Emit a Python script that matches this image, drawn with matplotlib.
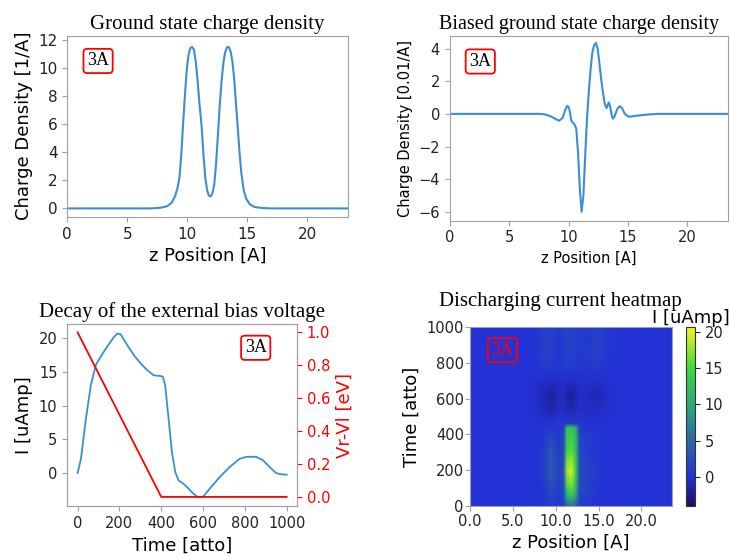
import numpy as np
import matplotlib.pyplot as plt
from matplotlib.colors import LinearSegmentedColormap

# --- top left: ground state charge density [1/A]
z_gs = [0, 7.0, 7.8, 8.3, 8.7, 9.0, 9.2, 9.35, 9.5, 9.65, 9.8, 9.95, 10.1, 10.25, 10.4,
        10.55, 10.7, 10.85, 11.0, 11.2, 11.35, 11.5, 11.65, 11.8, 11.95, 12.1, 12.25,
        12.4, 12.55, 12.7, 12.85, 13.0, 13.15, 13.3, 13.45, 13.6, 13.75, 13.9, 14.05,
        14.2, 14.35, 14.5, 14.7, 14.9, 15.2, 15.6, 16.2, 17.0, 23.6]
rho_gs = [0, 0, 0.05, 0.15, 0.4, 0.9, 1.5, 2.2, 3.8, 6.0, 8.0, 9.8, 10.9, 11.4, 11.5,
          11.3, 10.5, 9.2, 7.6, 5.8, 3.8, 2.2, 1.3, 0.9, 0.85, 1.1, 1.7,
          3.2, 5.2, 7.3, 9.0, 10.3, 11.1, 11.45, 11.5, 11.2, 10.5, 9.3, 7.5,
          5.8, 4.0, 2.5, 1.3, 0.7, 0.3, 0.1, 0.03, 0, 0]

# --- top right: biased ground state density [0.01/A]
z_b = [0, 7.5, 8.0, 8.5, 9.2, 9.5, 9.75, 9.9, 10.05, 10.25, 10.5, 10.65, 10.8, 10.95,
       11.1, 11.25, 11.4, 11.55, 11.7, 11.85, 12.0, 12.15, 12.3, 12.45, 12.6, 12.75,
       12.9, 13.05, 13.2, 13.3, 13.4, 13.5, 13.65, 13.75, 13.9, 14.1, 14.3, 14.5,
       14.7, 14.9, 15.1, 15.6, 16.5, 17.5, 23.6]
rho_b = [0, 0, -0.03, -0.15, -0.42, -0.25, 0.3, 0.5, 0.35, -0.45, -0.65, -0.9, -2.4, -4.6,
         -6.0, -5.0, -2.6, -0.3, 1.3, 2.7, 3.75, 4.2, 4.35, 4.0, 3.1, 2.1,
         1.3, 0.6, 0.35, 0.55, 0.7, 0.45, -0.15, -0.3, -0.1, 0.3, 0.47, 0.35,
         0.05, -0.1, -0.18, -0.12, -0.05, 0, 0]

# --- bottom left: current and bias voltage vs time
t_I = [0, 16, 40, 63, 87, 111, 142, 174, 190, 206, 237, 269, 301, 332, 364, 396, 408,
       419, 435, 451, 467, 483, 506, 530, 554, 577, 601, 633, 680, 728, 775, 807, 854,
       886, 918, 949, 973, 1000]
I_t = [0, 2.1, 8.1, 13.0, 16.0, 17.3, 18.8, 20.2, 20.7, 20.6, 19.0, 17.5, 16.3, 15.3,
       14.5, 14.4, 14.3, 13.0, 8.1, 3.1, 0.15, -1.1, -1.6, -2.3, -3.1, -3.6, -3.5, -2.3,
       -0.6, 0.9, 2.1, 2.4, 2.4, 1.9, 0.9, 0.0, -0.2, -0.25]
t_V = [0, 400, 1000]
V_t = [1.0, 0.0, 0.0]

# --- bottom right: current heatmap I(z, t) [uAmp]
z_hm = [0, 6, 7.5, 8.5, 9.4, 10.3, 10.9, 11.3, 11.8, 12.3, 12.8, 13.6, 14.8, 16, 17.5, 23.6]
t_hm = [0, 50, 100, 200, 300, 400, 440, 460, 540, 620, 700, 760, 850, 1000]
I_hm = [
    [0, 0, 0, 0.2, 0.8, 0.5, 0.8, 4, 6, 4, 0.8, 0.5, 0.2, 0, 0, 0],
    [0, 0, 0, 0.3, 1.5, 0.8, 1.5, 10, 12, 9, 1.5, 1, 0.3, 0, 0, 0],
    [0, 0, 0, 0.5, 2.5, 1, 2, 14, 16, 12, 2, 1.5, 0.5, 0, 0, 0],
    [0, 0, 0, 0.8, 4, 1.5, 2.5, 18, 20, 15, 2.5, 1.5, 0.8, 0, 0, 0],
    [0, 0, 0, 0.6, 3.5, 1, 2, 15, 16, 13, 2, 1, 0.5, 0, 0, 0],
    [0, 0, 0, 0.4, 1.5, 0.8, 1.5, 13, 14, 12, 1.5, 0.8, 0.3, 0, 0, 0],
    [0, 0, 0, 0.2, 0.5, 0.5, 1, 12, 13, 11, 1, 0.3, 0.2, 0, 0, 0],
    [0, 0, 0, 0, 0, 0.8, 0.5, 0.8, 1, 0.8, 0.8, 0, 0, 0, 0, 0],
    [0, 0, -0.2, -0.7, -1.3, -0.7, -0.4, -1.0, -1.3, -0.9, -0.3, -0.4, -0.7, -0.3, 0, 0],
    [0, 0, -0.3, -1.0, -1.9, -0.9, -0.7, -1.5, -1.9, -1.3, -0.5, -0.6, -1.2, -0.4, 0, 0],
    [0, 0, -0.1, -0.4, -0.7, -0.4, -0.3, -0.5, -0.7, -0.5, -0.2, -0.2, -0.4, -0.1, 0, 0],
    [0, 0, 0, 0.5, 0.6, 0.2, 0.5, 0.8, 0.6, 0.5, 0.3, 0.4, 0.6, 0.2, 0, 0],
    [0, 0, 0, 1.2, 1.4, 0.5, 1, 1.5, 1.3, 1, 0.6, 0.8, 1.4, 0.6, 0, 0],
    [0, 0, 0, 1.2, 1.4, 0.5, 1, 1.5, 1.3, 1, 0.6, 0.8, 1.4, 0.6, 0, 0],
]

blue = '#3a8fd4'
spine_c = '#a0a0a0'
serif = 'Liberation Serif'


def style_axes(ax, tick_size):
    for s in ax.spines.values():
        s.set_color(spine_c)
    ax.tick_params(colors=spine_c, labelcolor='#222222', labelsize=tick_size, length=3.5)


def tag(ax, x, y, color='black'):
    ax.text(x, y, '3A', transform=ax.transAxes, fontsize=13, family=serif, color=color,
            ha='center', va='center',
            bbox=dict(boxstyle='round,pad=0.2', fc='white' if color == 'black' else 'none',
                      ec='red', lw=1.3))


fig = plt.figure(figsize=(7.3, 5.56), dpi=100)

# top left
ax1 = fig.add_axes([0.092, 0.610, 0.385, 0.326])
ax1.plot(z_gs, rho_gs, color=blue, lw=1.5)
ax1.set_xlim(0, 23.4)
ax1.set_ylim(-0.6, 12.3)
ax1.set_xticks([0, 5, 10, 15, 20])
ax1.set_yticks([0, 2, 4, 6, 8, 10, 12])
ax1.set_xlabel('z Position [A]', fontsize=13)
ax1.set_ylabel('Charge Density [1/A]', fontsize=13)
ax1.set_title('Ground state charge density', family=serif, fontsize=15, pad=5)
style_axes(ax1, 11)
tag(ax1, 0.11, 0.86)

# top right
ax2 = fig.add_axes([0.616, 0.603, 0.381, 0.333])
ax2.plot(z_b, rho_b, color=blue, lw=1.5)
ax2.set_xlim(0, 23.4)
ax2.set_ylim(-6.55, 4.8)
ax2.set_xticks([0, 5, 10, 15, 20])
ax2.set_yticks([-6, -4, -2, 0, 2, 4])
ax2.set_xlabel('z Position [A]', fontsize=10.5)
ax2.set_ylabel('Charge Density [0.01/A]', fontsize=10.5)
ax2.set_title('Biased ground state charge density', family=serif, fontsize=14.5, pad=5,
              x=0.465)
style_axes(ax2, 10.5)
tag(ax2, 0.11, 0.86)

# bottom left
ax3 = fig.add_axes([0.092, 0.090, 0.315, 0.327])
ax3.plot(t_I, I_t, color=blue, lw=1.3)
ax3.set_ylim(-4.9, 22.1)
ax3.set_xticks([0, 200, 400, 600, 800, 1000])
ax3.set_yticks([0, 5, 10, 15, 20])
ax3.set_xlabel('Time [atto]', fontsize=13)
ax3.set_ylabel('I [uAmp]', fontsize=13)
ax3.set_title('Decay of the external bias voltage', family=serif, fontsize=15, pad=5)
style_axes(ax3, 10.5)
ax3b = ax3.twinx()
ax3b.plot(t_V, V_t, color='red', lw=1.3)
ax3b.set_ylim(-0.055, 1.05)
ax3b.set_yticks([0, 0.2, 0.4, 0.6, 0.8, 1.0])
ax3b.set_ylabel('Vr-Vl [eV]', fontsize=13, color='red')
for s in ax3b.spines.values():
    s.set_color(spine_c)
ax3b.tick_params(colors='red', labelcolor='red', labelsize=10.5, length=3.5)
tag(ax3, 0.82, 0.87)

# bottom right
ax4 = fig.add_axes([0.644, 0.090, 0.277, 0.322])
cmap = LinearSegmentedColormap.from_list('cur', [
    (0.0, '#1c0f5a'), (0.162, '#2232d6'), (0.364, '#2c6aa0'),
    (0.567, '#2fa77a'), (0.769, '#3ed840'), (1.0, '#f4f41e')])
mesh = ax4.pcolormesh(z_hm, t_hm, np.array(I_hm), shading='gouraud', cmap=cmap,
                      vmin=-4, vmax=20.7)
ax4.set_xlim(0, 23.6)
ax4.set_ylim(0, 1000)
ax4.set_xticks([0, 5, 10, 15, 20])
ax4.set_xticklabels(['0.0', '5.0', '10.0', '15.0', '20.0'])
ax4.set_yticks([0, 200, 400, 600, 800, 1000])
ax4.set_xlabel('z Position [A]', fontsize=13)
ax4.set_ylabel('Time [atto]', fontsize=13)
style_axes(ax4, 10.5)
ax4.tick_params(axis='x', pad=2)
ax4.tick_params(axis='y', pad=1)
tag(ax4, 0.16, 0.87, color='red')
fig.text(0.767, 0.458, 'Discharging current heatmap', family=serif, fontsize=15,
         ha='center', va='center')

cax = fig.add_axes([0.9397, 0.090, 0.0125, 0.322])
cb = fig.colorbar(mesh, cax=cax)
cb.set_ticks([0, 5, 10, 15, 20])
cb.outline.set_edgecolor('#333333')
cax.tick_params(labelsize=10.5, colors='#222222', length=3.5)
cax.set_title('I [uAmp]', fontsize=13, pad=2)

fig.savefig('out.png', dpi=100)
